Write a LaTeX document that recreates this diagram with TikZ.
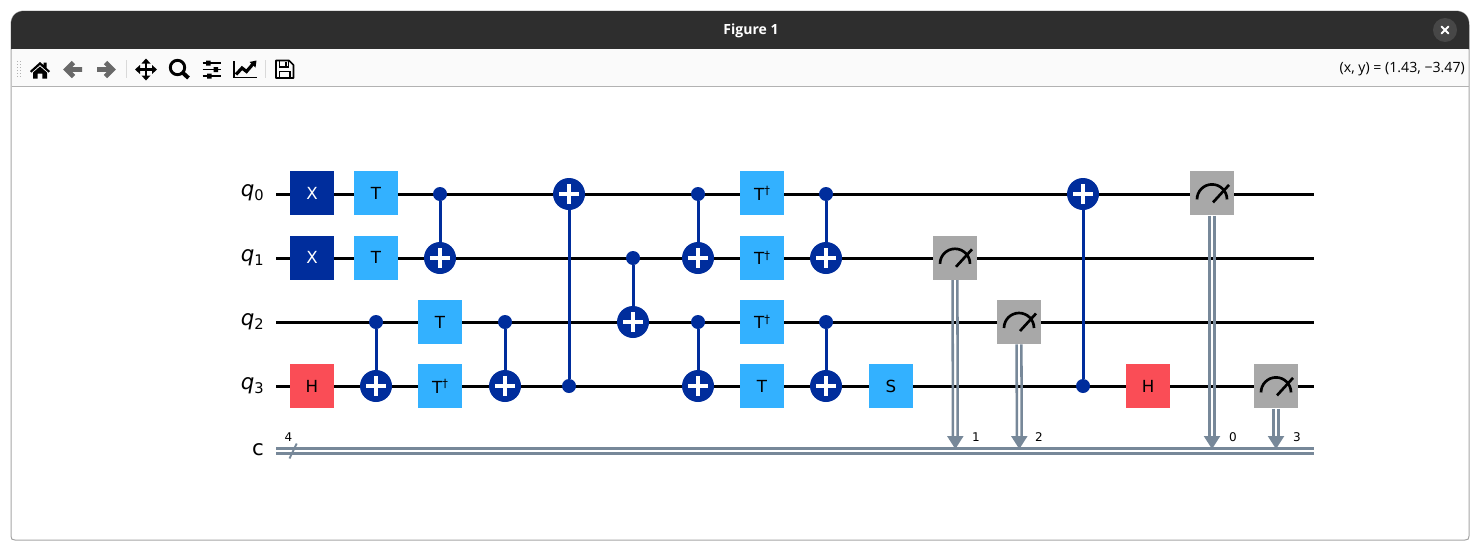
\documentclass[tikz,border=0pt]{standalone}
\usepackage{fontspec}
\setmainfont{DejaVu Sans}
\newfontfamily\uifont{Open Sans}
\definecolor{gatedark}{HTML}{002D9C}
\definecolor{gatelight}{HTML}{33B1FF}
\definecolor{gatered}{HTML}{FA4D56}
\definecolor{gategrey}{HTML}{A8A8A8}
\definecolor{clbit}{HTML}{778899}
\definecolor{barblack}{HTML}{2E2E2E}
\definecolor{icongrey}{HTML}{696969}
\tikzset{
	qwire/.style={draw=black,line width=2.25pt},
	clwire/.style={draw=clbit,line width=1.9pt},
	gatebox/.style={rectangle,minimum size=33pt,inner sep=0pt,font=\fontsize{12.5}{14}\selectfont},
	xgate/.style={gatebox,fill=gatedark,text=white},
	tgate/.style={gatebox,fill=gatelight,text=black},
	hgate/.style={gatebox,fill=gatered,text=black},
	mgate/.style={gatebox,fill=gategrey},
	ctrldot/.style={circle,fill=gatedark,minimum size=10.5pt,inner sep=0pt},
	ctrlline/.style={draw=gatedark,line width=2.25pt},
	target/.style={circle,fill=gatedark,minimum size=24pt,inner sep=0pt,
		path picture={\draw[white,line width=3pt]
			([shift={(-9.7,0)}]path picture bounding box.center) -- ([shift={(9.7,0)}]path picture bounding box.center)
			([shift={(0,-9.7)}]path picture bounding box.center) -- ([shift={(0,9.7)}]path picture bounding box.center);}},
	wirelabel/.style={anchor=east,inner sep=0pt,font=\fontsize{16}{19}\selectfont},
	bitlabel/.style={inner sep=0pt,font=\fontsize{9}{11}\selectfont},
	icon/.style={fill=black,draw=none}
}
\newcommand{\qname}[1]{\textit{q}\raisebox{-3pt}{\fontsize{11}{12}\selectfont #1}}
\newcommand{\tdag}{T\raisebox{4pt}{\fontsize{8.5}{10}\selectfont †}}
% dial of a measurement box
\newcommand{\dial}[1]{
	\draw[black,line width=2pt] ([shift={(-15,6)}]#1.center) arc[start angle=180,end angle=360,radius=15];
	\draw[black,line width=2pt] ([shift={(1,9)}]#1.center) -- ([shift={(17,-8.5)}]#1.center);
}
% double line from measurement box down to its bit, and the head
\newcommand{\readout}[2]{
	\draw[clwire] ([shift={(-2.4,0)}]#1.south) -- ([shift={(-2.4,-10)}]#2);
	\draw[clwire] ([shift={(2.4,0)}]#1.south) -- ([shift={(2.4,-10)}]#2);
	\fill[clbit] ([shift={(-8.3,-15)}]#2) -- ([shift={(8.3,-15)}]#2) -- ([shift={(0,-2)}]#2) -- cycle;
}

\begin{document}
\begin{tikzpicture}[x=0.75pt,y=0.75pt,yscale=-1,xscale=1]
	\useasboundingbox (0,0) rectangle (1480,550);

	%Window
	\fill[white] (0,0) rectangle (1480,550);
	\filldraw[fill=white,draw=black!35,line width=0.75pt] (11,25) .. controls (11,16) and (16,11) .. (25,11) -- (1455,11) .. controls (1464,11) and (1469,16) .. (1469,25) -- (1469,536) .. controls (1469,539) and (1468,540) .. (1465,540) -- (15,540) .. controls (12,540) and (11,539) .. (11,536) -- cycle;
	%Title bar
	\fill[barblack] (11,49) -- (11,25) .. controls (11,16) and (16,11) .. (25,11) -- (1455,11) .. controls (1464,11) and (1469,16) .. (1469,25) -- (1469,49) -- cycle;
	\node (title) at (751,30.5) [text=white,inner sep=0pt,font=\uifont\bfseries\fontsize{10.5}{12}\selectfont] {Figure 1};
	\fill[black!72] (1445,30) circle[radius=12];
	\draw[white,line width=1.5pt,line cap=round] (1441.5,26.5) -- (1448.5,33.5) (1448.5,26.5) -- (1441.5,33.5);
	%Toolbar
	\fill[black!2] (12,49) rectangle (1468,86);
	\draw[black!30,line width=0.75pt] (11.5,86.5) -- (1468.5,86.5);
	\foreach \gy in {61,64,67,70,73,76} {\fill[black!30] (17,\gy) rectangle (18,\gy+1); \fill[black!30] (19.5,\gy) rectangle (20.5,\gy+1);}
	\draw[black!15,line width=0.75pt] (126.5,60) -- (126.5,78) (265.5,60) -- (265.5,78);
	%Home
	\fill[icon] (30,71) -- (40,62) -- (43.5,65) -- (43.5,62.5) -- (46.5,62.5) -- (46.5,68) -- (50,71) -- (48.5,72.5) -- (40,65) -- (31.5,72.5) -- cycle;
	\fill[icon] (33,72.5) -- (40,66.5) -- (47,72.5) -- (47,78.5) -- (42.3,78.5) -- (42.3,73.5) -- (37.7,73.5) -- (37.7,78.5) -- (33,78.5) -- cycle;
	%Back, forward
	\draw[icongrey,line width=3.6pt] (82,69.5) -- (67,69.5) (73.5,62.5) -- (66.5,69.5) -- (73.5,76.5);
	\draw[icongrey,line width=3.6pt] (97,69.5) -- (112,69.5) (105.5,62.5) -- (112.5,69.5) -- (105.5,76.5);
	%Move
	\draw[black,line width=2pt] (137,69.5) -- (155,69.5) (146,60) -- (146,79);
	\fill[icon] (135,69.5) -- (140,65) -- (140,74) -- cycle (157,69.5) -- (152,65) -- (152,74) -- cycle (146,58.5) -- (141.5,63.5) -- (150.5,63.5) -- cycle (146,80.5) -- (141.5,75.5) -- (150.5,75.5) -- cycle;
	%Zoom
	\draw[black,line width=2.2pt] (177.5,67.5) circle[radius=7.2];
	\draw[black,line width=3pt] (182.5,72.5) -- (188.5,78);
	%Sliders
	\draw[black,line width=1pt] (202.5,63) -- (221,63) (202.5,69.5) -- (221,69.5) (202.5,76) -- (221,76);
	\fill[icon] (206,60.5) rectangle (210.5,65.5) (213.5,67) rectangle (218,72) (207,73.5) rectangle (211.5,78.5);
	%Chart
	\draw[black,line width=1pt] (234,61) -- (234,77.5) -- (257,77.5);
	\draw[black,line width=2.4pt] (236,74.5) -- (242,68) -- (246.5,71.5) -- (253,64);
	\fill[icon] (249.5,62) -- (256.5,60.5) -- (255.5,67.5) -- cycle;
	%Save
	\draw[black,line width=1.2pt,line join=round] (276,60.5) -- (289,60.5) -- (293.5,65) -- (293.5,78) -- (276,78) -- cycle;
	\draw[black,line width=1pt] (279.5,60.5) -- (279.5,67) -- (288.5,67) -- (288.5,60.5) (279.5,78) -- (279.5,71.5) -- (290,71.5) -- (290,78);
	\fill[icon] (284.5,61.5) rectangle (287,66);
	\node (coords) at (1465,69.5) [anchor=east,inner sep=0pt,font=\uifont\fontsize{10.6}{12}\selectfont] {(x, y) = (1.43, −3.47)};

	%Wires
	\coordinate (q0a) at (276,194); \coordinate (q0b) at (1314,194);
	\coordinate (q1a) at (276,258); \coordinate (q1b) at (1314,258);
	\coordinate (q2a) at (276,322); \coordinate (q2b) at (1314,322);
	\coordinate (q3a) at (276,386); \coordinate (q3b) at (1314,386);
	\coordinate (ca) at (276,451); \coordinate (cb) at (1314,451);
	\draw[qwire] (q0a) -- (q0b);
	\draw[qwire] (q1a) -- (q1b);
	\draw[qwire] (q2a) -- (q2b);
	\draw[qwire] (q3a) -- (q3b);
	\draw[clwire] ([shift={(0,-2.4)}]ca) -- ([shift={(0,-2.4)}]cb);
	\draw[clwire] ([shift={(0,2.4)}]ca) -- ([shift={(0,2.4)}]cb);
	\coordinate (slasha) at (289.5,458.5); \coordinate (slashb) at (296.7,443.5);
	\draw[draw=clbit,line width=1.4pt] (slasha) -- (slashb);

	% Text Node
	\node[wirelabel] (lq0) at (264,193) {\qname{0}};
	\node[wirelabel] (lq1) at (264,257.5) {\qname{1}};
	\node[wirelabel] (lq2) at (264,322) {\qname{2}};
	\node[wirelabel] (lq3) at (264,386) {\qname{3}};
	\node[wirelabel] (lc) at (264,450) {c};
	\node[bitlabel] (lwidth) at (288.5,437) {4};

	%Single gates
	\node[xgate] (x0) at (312,193.4) {X};
	\node[xgate] (x1) at (312,257.8) {X};
	\node[hgate] (h3) at (312,386.4) {H};
	\node[tgate] (t0) at (376,193.4) {T};
	\node[tgate] (t1) at (376,257.8) {T};
	\node[tgate] (t2) at (440,322) {T};
	\node[tgate] (td3) at (440,386.4) {\tdag};
	\node[tgate] (td0) at (762,193.4) {\tdag};
	\node[tgate] (td1) at (762,257.8) {\tdag};
	\node[tgate] (td2) at (762,322) {\tdag};
	\node[tgate] (t3) at (762,386.4) {T};
	\node[tgate] (s3) at (891,386.4) {S};
	\node[hgate] (hb3) at (1148,386.4) {H};

	%Controlled gates
	\node[ctrldot] (c1) at (440,194) {}; \node[target] (n1) at (440,258) {};
	\node[ctrldot] (c2) at (376,322) {}; \node[target] (n2) at (376,386) {};
	\node[ctrldot] (c3) at (505,322) {}; \node[target] (n3) at (505,386) {};
	\node[ctrldot] (c4) at (569,386) {}; \node[target] (n4) at (569,194) {};
	\node[ctrldot] (c5) at (633,258) {}; \node[target] (n5) at (633,322) {};
	\node[ctrldot] (c6) at (698,194) {}; \node[target] (n6) at (698,258) {};
	\node[ctrldot] (c7) at (698,322) {}; \node[target] (n7) at (698,386) {};
	\node[ctrldot] (c8) at (826,194) {}; \node[target] (n8) at (826,258) {};
	\node[ctrldot] (c9) at (826,322) {}; \node[target] (n9) at (826,386) {};
	\node[ctrldot] (c10) at (1083,386) {}; \node[target] (n10) at (1083,194) {};
	\draw[ctrlline] (c1) -- (n1);
	\draw[ctrlline] (c2) -- (n2);
	\draw[ctrlline] (c3) -- (n3);
	\draw[ctrlline] (c4) -- (n4);
	\draw[ctrlline] (c5) -- (n5);
	\draw[ctrlline] (c6) -- (n6);
	\draw[ctrlline] (c7) -- (n7);
	\draw[ctrlline] (c8) -- (n8);
	\draw[ctrlline] (c9) -- (n9);
	\draw[ctrlline] (c10) -- (n10);

	%Measurements
	\node[mgate] (m1) at (955,257.8) {}; \dial{m1}
	\node[mgate] (m2) at (1019,322) {}; \dial{m2}
	\node[mgate] (m0) at (1212,193.4) {}; \dial{m0}
	\node[mgate] (m3) at (1276,386.4) {}; \dial{m3}
	\coordinate (b1) at (955.3,451);
	\coordinate (b2) at (1019.3,451);
	\coordinate (b0) at (1212,451);
	\coordinate (b3) at (1276,451);
	\readout{m1}{b1}
	\readout{m2}{b2}
	\readout{m0}{b0}
	\readout{m3}{b3}
	\node[bitlabel] (l1) at (976,437) {1};
	\node[bitlabel] (l2) at (1039,437) {2};
	\node[bitlabel] (l0) at (1233,437) {0};
	\node[bitlabel] (l3) at (1297,437) {3};
\end{tikzpicture}
\end{document}
